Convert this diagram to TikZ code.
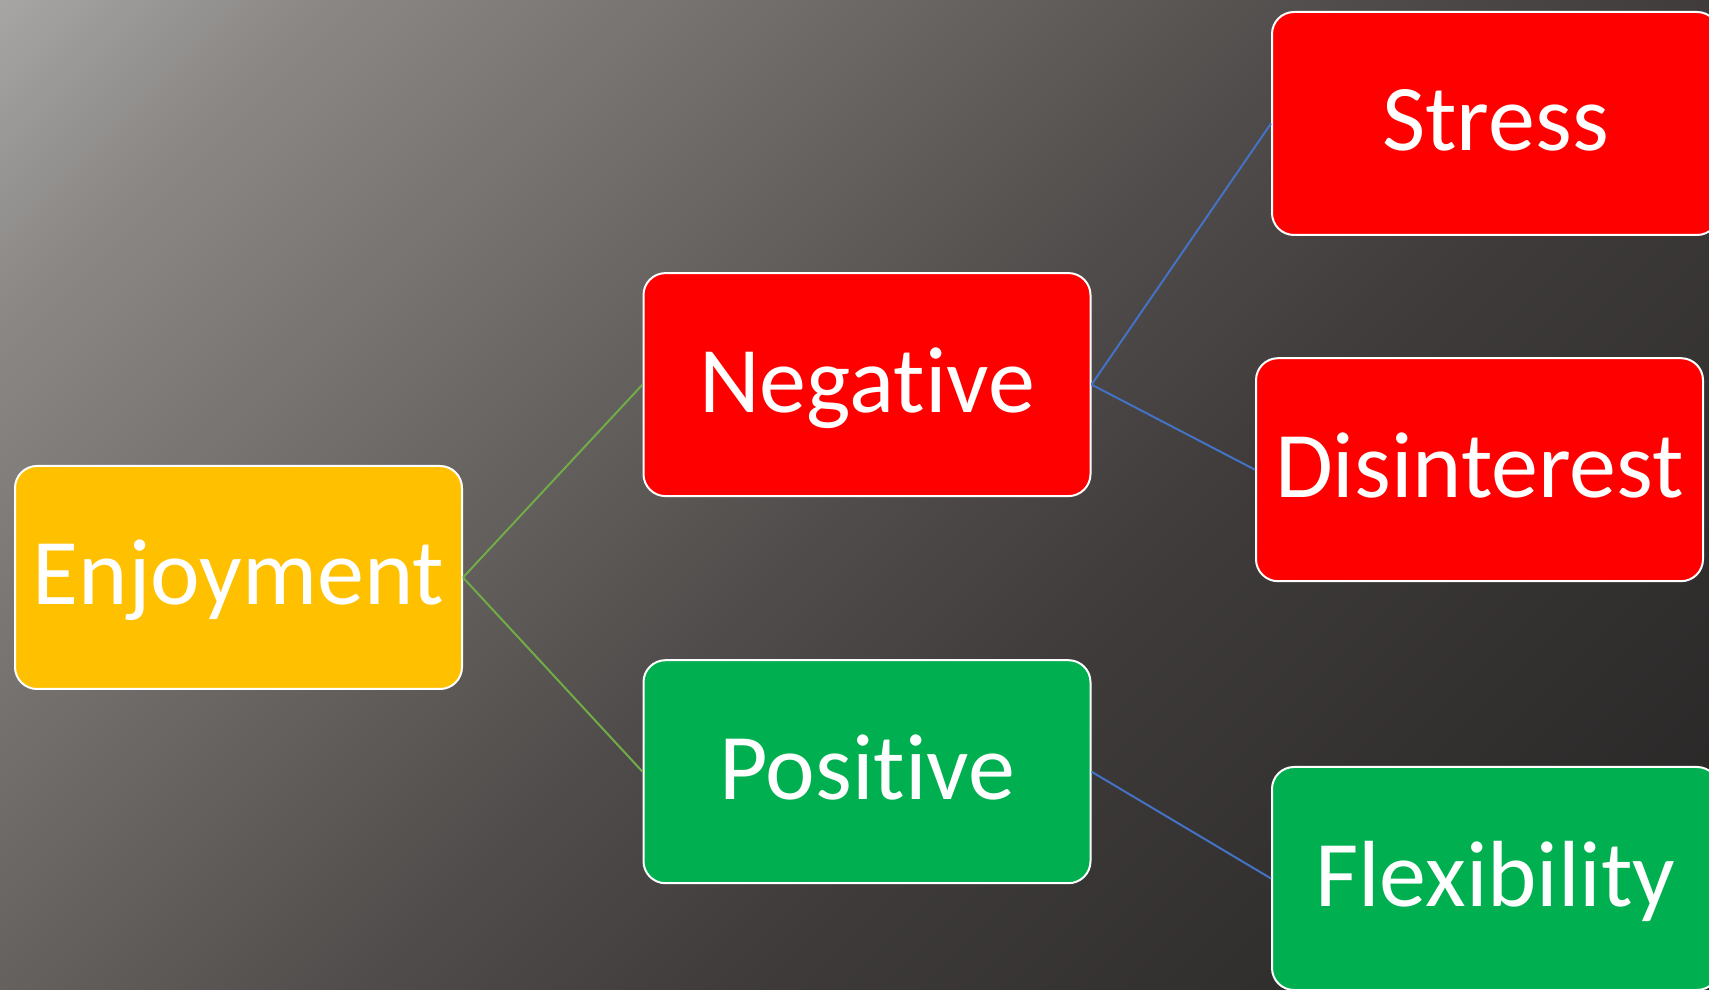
\documentclass[tikz,border=0pt]{standalone}
\usepackage{fontspec}
\setmainfont{Carlito}[Ligatures={NoCommon,NoRequired,NoContextual}]
\definecolor{bgA}{HTML}{A6A5A3}
\definecolor{bgB}{HTML}{8A8785}
\definecolor{bgC}{HTML}{6B6866}
\definecolor{bgD}{HTML}{5A5654}
\definecolor{bgE}{HTML}{4F4C4B}
\definecolor{bgF}{HTML}{3E3B3A}
\definecolor{bgG}{HTML}{262424}
\definecolor{enjoy}{HTML}{FFC000}
\definecolor{negred}{HTML}{FF0000}
\definecolor{posgreen}{HTML}{00B050}
\definecolor{linkgreen}{HTML}{70AD47}
\definecolor{linkblue}{HTML}{4472C4}
\pgfdeclarehorizontalshading{bgshade}{100bp}{color(0bp)=(bgA); color(14.64bp)=(bgA); color(23bp)=(bgB); color(37.4bp)=(bgC); color(45.5bp)=(bgD); color(50bp)=(bgE); color(60bp)=(bgF); color(85.36bp)=(bgG); color(100bp)=(bgG)}
\begin{document}
\begin{tikzpicture}[x=1pt,y=1pt,
  box/.style={draw=white, line width=2pt, rounded corners=22pt,
    minimum width=447pt, minimum height=223pt, inner sep=0pt,
    text=white, font=\fontsize{94}{100}\selectfont,
    text height=60pt, text depth=5pt},
  yellowbox/.style={box, fill=enjoy},
  redbox/.style={box, fill=negred},
  greenbox/.style={box, fill=posgreen},
  glink/.style={draw=linkgreen, line width=2pt},
  blink/.style={draw=linkblue, line width=2pt}]
\useasboundingbox (0,0) rectangle (1709,989);
\shade[shading=bgshade, shading angle=-45] (0,0) rectangle (1709,989);

\node[yellowbox] (enj) at (238.5,411.5) {Enjoyment};
\node[redbox]    (neg) at (867,604.4) {Negative};
\node[greenbox]  (pos) at (867,217.3) {Positive};
\node[redbox]    (str) at (1495.5,865.5) {Stress};
\node[redbox]    (dis) at (1479.5,519.3) {Disinterest};
\node[greenbox]  (flx) at (1495.5,110.5) {Flexibility};

\draw[glink] (enj.east) -- (neg.west);
\draw[glink] (enj.east) -- (pos.west);
\draw[blink] (neg.east) -- (str.west);
\draw[blink] (neg.east) -- (dis.west);
\draw[blink] (pos.east) -- (flx.west);
\end{tikzpicture}
\end{document}
